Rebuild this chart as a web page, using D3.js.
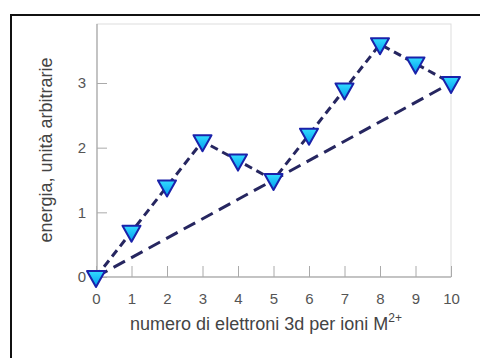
<!DOCTYPE html>
<html>
<head>
<meta charset="utf-8">
<script src="https://cdn.jsdelivr.net/npm/d3@7"></script>
<style>
  body { margin: 0; background: #fff; }
  svg { display: block; font-family: "Liberation Sans", Arial, sans-serif; }
</style>
</head>
<body>
<div id="chart"></div>
<script>
'use strict';

var electrons = [0, 1, 2, 3, 4, 5, 6, 7, 8, 9, 10];
var energy = [0, 0.7, 1.4, 2.1, 1.8, 1.5, 2.2, 2.9, 3.6, 3.3, 3.0];
var baseline = [{x: 0, y: 0}, {x: 10, y: 3}];
var yTicks = [0, 1, 2, 3];

var width = 480, height = 358;
var svg = d3.select("#chart").append("svg")
    .attr("width", width)
    .attr("height", height);

// outer frame (open on right and bottom)
svg.append("path")
    .attr("d", "M11,358 L11,15 L480,15")
    .style("fill", "none")
    .style("stroke", "#111")
    .style("stroke-width", 2);

var x = d3.scaleLinear().domain([0, 10]).range([96, 451]);
var y = d3.scaleLinear().domain([0, 3]).range([277, 83]);

var plotTop = 24, plotBottom = 277, plotLeft = 97, plotRight = 451;

// plot box
svg.append("rect")
    .attr("x", plotLeft)
    .attr("y", plotTop)
    .attr("width", plotRight - plotLeft)
    .attr("height", plotBottom - plotTop)
    .style("fill", "none")
    .style("stroke", "#ddd")
    .style("stroke-width", 1);

svg.append("line")
    .attr("x1", plotLeft).attr("x2", plotLeft)
    .attr("y1", plotTop).attr("y2", plotBottom)
    .style("stroke", "#999");
svg.append("line")
    .attr("x1", plotLeft).attr("x2", plotRight)
    .attr("y1", plotBottom).attr("y2", plotBottom)
    .style("stroke", "#999");

// x axis
var xAxis = svg.append("g")
    .attr("transform", "translate(0," + plotBottom + ")")
    .call(d3.axisBottom(x).tickValues(electrons).tickSize(-11));
xAxis.select(".domain").remove();
xAxis.selectAll(".tick line").style("stroke", "#aaa");
xAxis.selectAll("text").style("font-size", "15px").style("fill", "#555")
    .attr("y", 16);

// y axis
var yAxis = svg.append("g")
    .attr("transform", "translate(" + plotLeft + ",0)")
    .call(d3.axisLeft(y).tickValues(yTicks).tickFormat(d3.format("d")).tickSize(-10).tickPadding(11));
yAxis.select(".domain").remove();
yAxis.selectAll(".tick line").style("stroke", "#aaa");
yAxis.selectAll("text").style("font-size", "15px").style("fill", "#555");

// axis titles
var xTitle = svg.append("text")
    .attr("x", 266)
    .attr("y", 330)
    .attr("text-anchor", "middle")
    .style("font-size", "18px")
    .style("fill", "#444")
    .text("numero di elettroni 3d per ioni M");
xTitle.append("tspan")
    .attr("dy", -8)
    .style("font-size", "12px")
    .text("2+");

svg.append("text")
    .attr("transform", "translate(52,150) rotate(-90)")
    .attr("text-anchor", "middle")
    .style("font-size", "18px")
    .style("fill", "#444")
    .text("energia, unità arbitrarie");

var line = d3.line()
    .x(function (d) { return x(d.x); })
    .y(function (d) { return y(d.y); });

// straight reference line
svg.append("path")
    .datum(baseline)
    .attr("d", line)
    .style("fill", "none")
    .style("stroke", "#262660")
    .style("stroke-width", 3)
    .style("stroke-dasharray", "13,7");

var points = electrons.map(function (n, i) { return {x: n, y: energy[i]}; });

svg.append("path")
    .datum(points)
    .attr("d", line)
    .style("fill", "none")
    .style("stroke", "#262660")
    .style("stroke-width", 3)
    .style("stroke-dasharray", "8,5");

var defs = svg.append("defs");
var grad = defs.append("linearGradient")
    .attr("id", "tri")
    .attr("x1", 0).attr("y1", 0).attr("x2", 0).attr("y2", 1);
grad.append("stop").attr("offset", "0%").attr("stop-color", "#33ddff");
grad.append("stop").attr("offset", "100%").attr("stop-color", "#0099ee");

var tri = "M-9,-6 L9,-6 L0,10 Z";
svg.selectAll(".marker")
    .data(points)
    .enter()
    .append("path")
    .attr("class", "marker")
    .attr("d", tri)
    .attr("transform", function (d) {
        return "translate(" + x(d.x) + "," + y(d.y) + ")";
    })
    .style("fill", "url(#tri)")
    .style("stroke", "#1a22aa")
    .style("stroke-width", 2)
    .style("stroke-linejoin", "round");
</script>
</body>
</html>
